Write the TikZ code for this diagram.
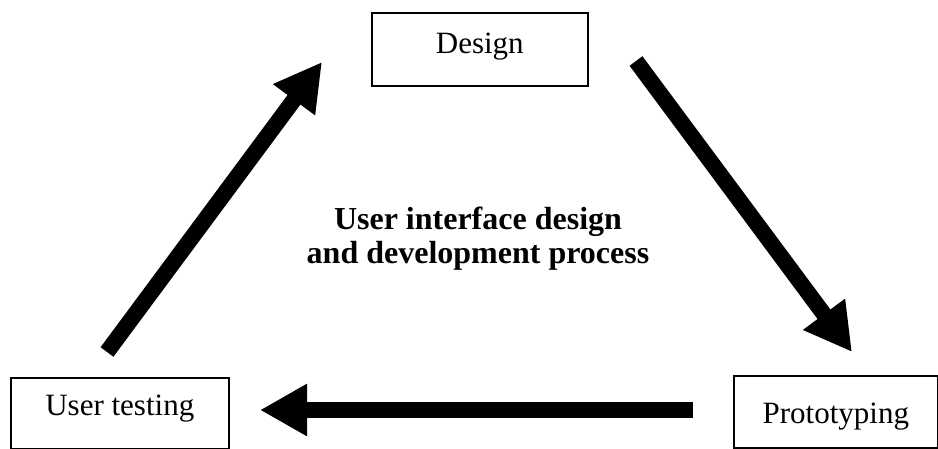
\documentclass[tikz,border=0pt]{standalone}
\usepackage{fontspec}
\setmainfont{Liberation Serif}
\usetikzlibrary{arrows.meta}

\tikzset{
  stage/.style={draw=black, line width=1.6pt, inner sep=0pt, align=center,
    font=\fontsize{31}{34}\selectfont},
  flow/.style={line width=16pt, line cap=butt,
    -{Triangle[length=47pt, width=49pt]}},
  caption/.style={inner sep=0pt, align=center,
    font=\fontsize{32}{34}\selectfont\bfseries}
}

\begin{document}
\begin{tikzpicture}[x=1pt, y=-1pt]
  \useasboundingbox (0,0) rectangle (938,449);

  % the three stages of the cycle
  \node[stage, minimum width=216pt, text height=41pt, text depth=32pt,
        anchor=north west] (design) at (371,12) {Design};
  \node[stage, minimum width=218pt, text height=38pt, text depth=33pt,
        anchor=north west] (testing) at (10,377) {User testing};
  \node[stage, minimum width=204pt, text height=48pt, text depth=24pt,
        anchor=north west] (proto) at (733,375) {Prototyping};

  % title in the middle
  \node[caption] (title) at (478,238.5)
    {User interface design\\and development process};

  % arrow end points
  \coordinate (a1) at (107,352);
  \coordinate (a2) at (322,62);
  \coordinate (b1) at (636,61);
  \coordinate (b2) at (852,352);
  \coordinate (c1) at (693,410);
  \coordinate (c2) at (260,410);

  \draw[flow] (a1) -- (a2);
  \draw[flow] (b1) -- (b2);
  \draw[flow] (c1) -- (c2);
\end{tikzpicture}
\end{document}
